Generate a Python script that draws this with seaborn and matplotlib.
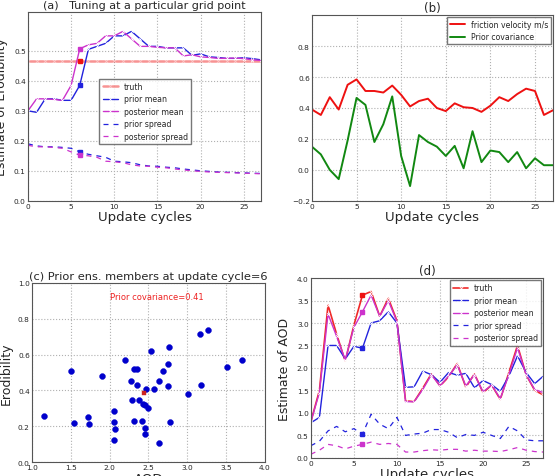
import matplotlib
matplotlib.use("Agg")
import matplotlib.pyplot as plt
import seaborn as sns
import numpy as np
import pandas as pd

cycles = list(range(28))

# (a) erodibility tuning
truth_a = [0.466] * 28
prior_mean_a = [0.300, 0.295, 0.340, 0.340, 0.335, 0.335, 0.385, 0.505, 0.515, 0.525,
                0.550, 0.550, 0.565, 0.540, 0.515, 0.515, 0.510, 0.510, 0.510, 0.485,
                0.490, 0.480, 0.478, 0.475, 0.475, 0.477, 0.474, 0.470]
post_mean_a = [0.300, 0.340, 0.340, 0.338, 0.335, 0.385, 0.507, 0.520, 0.525, 0.550,
               0.550, 0.565, 0.540, 0.515, 0.515, 0.512, 0.510, 0.510, 0.483, 0.487,
               0.480, 0.478, 0.475, 0.475, 0.476, 0.474, 0.470, 0.468]
prior_spread_a = [0.190, 0.183, 0.180, 0.180, 0.178, 0.175, 0.163, 0.155, 0.150, 0.145,
                  0.132, 0.130, 0.127, 0.120, 0.116, 0.115, 0.112, 0.110, 0.106, 0.103,
                  0.100, 0.098, 0.096, 0.095, 0.094, 0.093, 0.092, 0.091]
post_spread_a = [0.185, 0.180, 0.180, 0.178, 0.175, 0.163, 0.152, 0.150, 0.145, 0.132,
                 0.130, 0.127, 0.120, 0.116, 0.115, 0.112, 0.110, 0.106, 0.103, 0.100,
                 0.098, 0.096, 0.095, 0.094, 0.093, 0.092, 0.091, 0.090]

# (b) friction velocity and prior covariance
friction_vel = [0.390, 0.355, 0.470, 0.390, 0.550, 0.585, 0.510, 0.510, 0.500, 0.545,
                0.485, 0.410, 0.445, 0.460, 0.400, 0.380, 0.430, 0.405, 0.400, 0.375,
                0.415, 0.470, 0.445, 0.490, 0.525, 0.510, 0.355, 0.385]
prior_cov = [0.150, 0.100, 0.000, -0.060, 0.190, 0.465, 0.420, 0.180, 0.295, 0.475,
             0.090, -0.105, 0.225, 0.180, 0.150, 0.090, 0.155, 0.010, 0.250, 0.050,
             0.125, 0.115, 0.050, 0.115, 0.010, 0.075, 0.030, 0.030]

# (c) prior ensemble members at cycle 6
ens_aod = [1.155, 1.50, 1.54, 1.72, 1.74, 1.90, 2.06, 2.06, 2.07, 2.06,
           2.20, 2.27, 2.29, 2.32, 2.35, 2.31, 2.35, 2.38, 2.42, 2.43,
           2.46, 2.45, 2.45, 2.47, 2.50, 2.53, 2.57, 2.64, 2.64, 2.69,
           2.75, 2.75, 2.76, 2.78, 3.01, 3.16, 3.18, 3.27, 3.51, 3.71]
ens_erod = [0.256, 0.507, 0.218, 0.252, 0.211, 0.479, 0.226, 0.285, 0.183, 0.121,
            0.569, 0.453, 0.347, 0.520, 0.520, 0.229, 0.431, 0.347, 0.231, 0.323,
            0.317, 0.188, 0.155, 0.407, 0.304, 0.619, 0.407, 0.106, 0.450, 0.506,
            0.550, 0.425, 0.644, 0.222, 0.382, 0.716, 0.433, 0.739, 0.528, 0.571]
ens_mean_aod = [2.44]
ens_mean_erod = [0.384]

# (d) AOD
truth_d = [0.80, 1.50, 3.40, 2.75, 2.15, 2.95, 3.62, 3.70, 3.15, 3.55,
           3.05, 1.27, 1.25, 1.55, 1.87, 1.60, 1.80, 2.10, 1.57, 1.87,
           1.45, 1.62, 1.30, 1.90, 2.50, 1.85, 1.50, 1.40]
prior_mean_d = [0.78, 0.90, 2.50, 2.50, 2.20, 2.48, 2.44, 3.00, 3.05, 3.25,
                3.00, 1.57, 1.58, 1.93, 1.85, 1.68, 1.90, 1.84, 1.88, 1.56,
                1.72, 1.63, 1.48, 1.82, 2.27, 1.90, 1.65, 1.82]
post_mean_d = [0.80, 1.45, 3.20, 2.70, 2.18, 2.90, 3.25, 3.62, 3.15, 3.50,
               3.03, 1.25, 1.25, 1.52, 1.85, 1.60, 1.82, 2.07, 1.60, 1.85,
               1.47, 1.62, 1.32, 1.85, 2.45, 1.85, 1.52, 1.45]
prior_spread_d = [0.27, 0.37, 0.60, 0.70, 0.58, 0.65, 0.53, 0.97, 0.75, 0.65,
                  0.90, 0.50, 0.53, 0.55, 0.63, 0.63, 0.57, 0.45, 0.52, 0.50,
                  0.57, 0.50, 0.43, 0.70, 0.60, 0.40, 0.38, 0.38]
post_spread_d = [0.08, 0.17, 0.30, 0.27, 0.20, 0.26, 0.30, 0.35, 0.30, 0.32,
                 0.30, 0.13, 0.13, 0.16, 0.18, 0.17, 0.19, 0.19, 0.15, 0.17,
                 0.15, 0.15, 0.14, 0.18, 0.23, 0.17, 0.14, 0.13]

hl = 6  # highlighted update cycle

sns.set_style("whitegrid", {"grid.linestyle": ":", "grid.color": "#b0b0b0",
                            "axes.edgecolor": "#555555", "xtick.direction": "in",
                            "ytick.direction": "in"})
plt.rcParams["font.family"] = ["DejaVu Sans"]
plt.rcParams["xtick.labelsize"] = 5.3
plt.rcParams["ytick.labelsize"] = 5.3
plt.rcParams["axes.linewidth"] = 0.8

fig = plt.figure(figsize=(5.59, 4.77), dpi=100)
ax_a = fig.add_axes([0.050, 0.577, 0.417, 0.396])
ax_b = fig.add_axes([0.558, 0.577, 0.431, 0.389])
ax_c = fig.add_axes([0.057, 0.029, 0.417, 0.376])
ax_d = fig.add_axes([0.556, 0.038, 0.416, 0.377])

RED, BLUE, MAG, GREEN = "#ee1111", "#2222dd", "#cc33cc", "#118811"


def evolution(ax, truth, pmean, qmean, pspread, qspread, truth_alpha, truth_lw):
    sns.lineplot(x=cycles, y=truth, ax=ax, color=RED, alpha=truth_alpha, lw=truth_lw,
                 marker="x", markersize=3, markeredgewidth=0.6, label="truth")
    sns.lineplot(x=cycles, y=pmean, ax=ax, color=BLUE, lw=1.0,
                 marker="x", markersize=2, markeredgewidth=0.5, label="prior mean")
    sns.lineplot(x=cycles, y=qmean, ax=ax, color=MAG, lw=1.0,
                 marker="x", markersize=2, markeredgewidth=0.5, label="posterior mean")
    sns.lineplot(x=cycles, y=pspread, ax=ax, color=BLUE, lw=0.9,
                 linestyle=(0, (4, 4)), label="prior spread")
    sns.lineplot(x=cycles, y=qspread, ax=ax, color=MAG, lw=0.9,
                 linestyle=(0, (4, 4)), label="posterior spread")
    for series, col in [(truth, RED), (pmean, BLUE), (qmean, MAG),
                        (pspread, BLUE), (qspread, MAG)]:
        ax.plot(cycles[hl], series[hl], "s", color=col, markersize=3.5)
    ax.set_xlim(0, 27)
    ax.set_xticks([0, 5, 10, 15, 20, 25])
    ax.set_xlabel("Update cycles", fontsize=9.5, labelpad=1)
    ax.tick_params(length=3, pad=1.5)


leg_kw = dict(fontsize=5.6, frameon=True, fancybox=False, edgecolor="#555555",
              handlelength=2.0, borderpad=0.4, labelspacing=0.45, handletextpad=0.7)

# (a)
evolution(ax_a, truth_a, prior_mean_a, post_mean_a, prior_spread_a, post_spread_a, 0.45, 1.8)
ax_a.set_ylim(0, 0.63)
ax_a.set_yticks([0.0, 0.1, 0.2, 0.3, 0.4, 0.5])
ax_a.set_title("(a)   Tuning at a particular grid point", fontsize=8, pad=3)
ax_a.set_ylabel("Estimate of Erodibility", fontsize=9)
ax_a.yaxis.set_label_coords(-0.085, 0.5)
ax_a.legend(loc="lower left", bbox_to_anchor=(0.29, 0.28), **leg_kw)

# (b)
sns.lineplot(x=cycles, y=friction_vel, ax=ax_b, color=RED, lw=1.4,
             label="friction velocity m/s")
sns.lineplot(x=cycles, y=prior_cov, ax=ax_b, color=GREEN, lw=1.4,
             label="Prior covariance")
ax_b.set_xlim(0, 27)
ax_b.set_ylim(-0.2, 1.0)
ax_b.set_xticks([0, 5, 10, 15, 20, 25])
ax_b.set_yticks([-0.2, 0.0, 0.2, 0.4, 0.6, 0.8])
ax_b.set_title("(b)", fontsize=8.5, pad=3)
ax_b.set_xlabel("Update cycles", fontsize=9.5, labelpad=1)
ax_b.tick_params(length=3, pad=1.5)
ax_b.legend(loc="upper right", borderaxespad=0.2, **leg_kw)

# (c)
sns.scatterplot(x=ens_aod, y=ens_erod, ax=ax_c, color="#0000cc", s=18,
                edgecolor="#0000cc", linewidth=0.3)
sns.scatterplot(x=ens_mean_aod, y=ens_mean_erod, ax=ax_c, color="#cc2222",
                marker="s", s=10, edgecolor="#cc2222", linewidth=0.3)
ax_c.set_xlim(1.0, 4.0)
ax_c.set_ylim(0.0, 1.0)
ax_c.set_xticks([1.0, 1.5, 2.0, 2.5, 3.0, 3.5, 4.0])
ax_c.set_yticks([0.0, 0.2, 0.4, 0.6, 0.8, 1.0])
ax_c.set_title("(c) Prior ens. members at update cycle=6", fontsize=8.2, pad=3)
ax_c.set_xlabel("AOD", fontsize=9.5, labelpad=1)
ax_c.set_ylabel("Erodibility", fontsize=9)
ax_c.tick_params(length=3, pad=1.5)
ax_c.text(2.0, 0.91, "Prior covariance=0.41", color="#ee2222", fontsize=6)

# (d)
evolution(ax_d, truth_d, prior_mean_d, post_mean_d, prior_spread_d, post_spread_d, 0.9, 1.2)
ax_d.set_ylim(0, 4.0)
ax_d.set_yticks([0.0, 0.5, 1.0, 1.5, 2.0, 2.5, 3.0, 3.5, 4.0])
ax_d.set_title("(d)", fontsize=8.5, pad=3)
ax_d.set_ylabel("Estimate of AOD", fontsize=9)
ax_d.legend(loc="upper right", borderaxespad=0.3, **leg_kw)

fig.savefig("out.png", dpi=100)
